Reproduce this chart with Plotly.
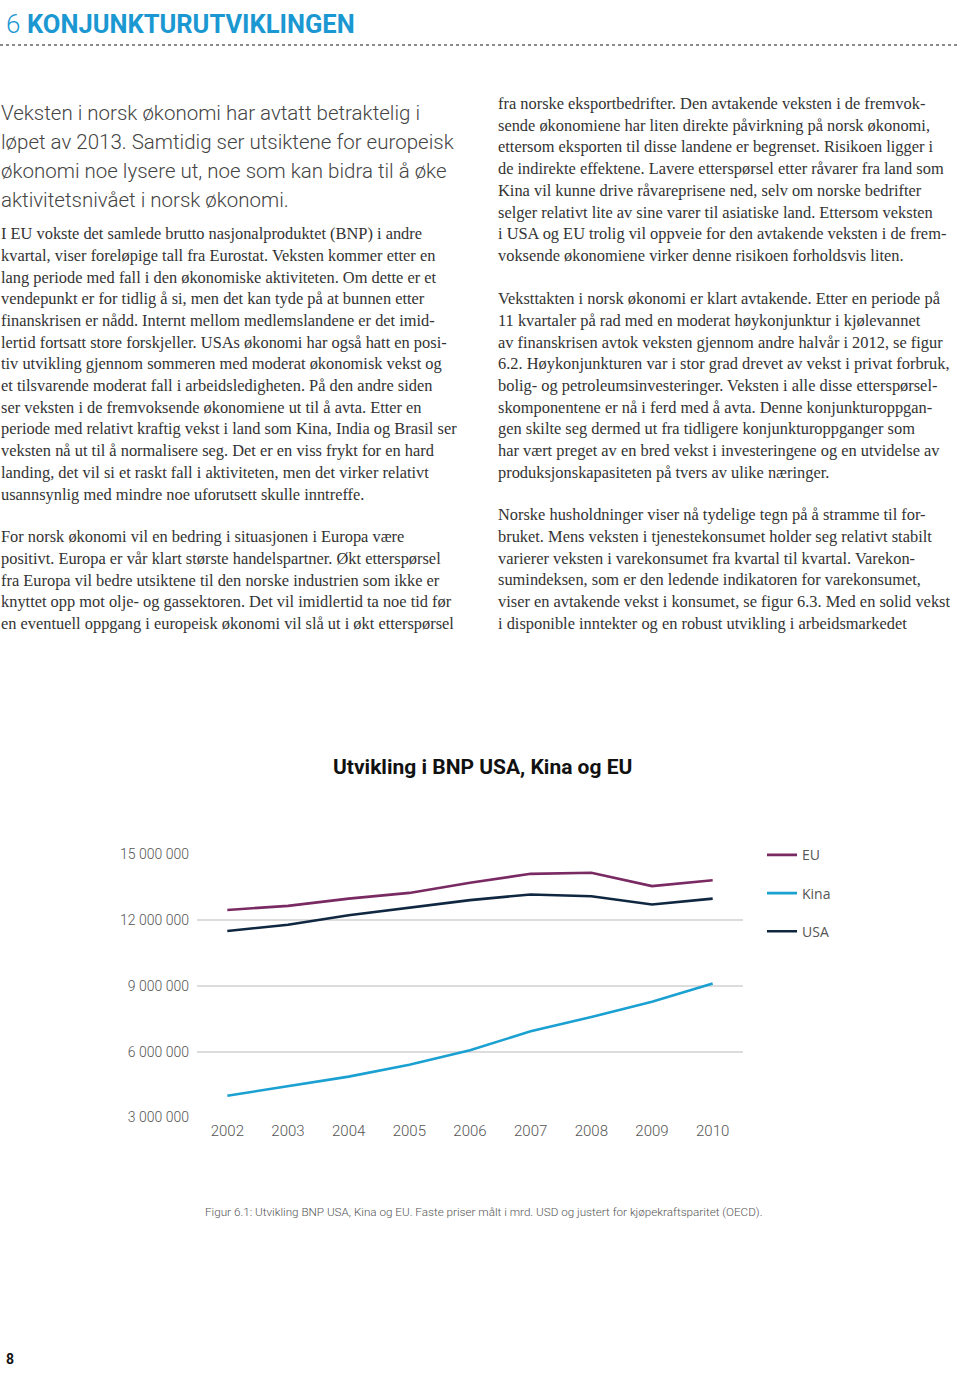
import plotly.graph_objects as go

W, H = 960, 1376

# ---- Chart data ----
years = [2002, 2003, 2004, 2005, 2006, 2007, 2008, 2009, 2010]
eu = [12460000, 12650000, 12980000, 13240000, 13700000, 14110000, 14160000, 13550000, 13820000]
kina = [3990000, 4420000, 4860000, 5400000, 6060000, 6930000, 7580000, 8270000, 9110000]
usa = [11500000, 11790000, 12220000, 12580000, 12910000, 13170000, 13090000, 12710000, 12980000]
series_names = ["EU", "Kina", "USA"]
series_colors = ["#7a2a63", "#1ba1d1", "#0f2740"]
y_tickvals = [3000000, 6000000, 9000000, 12000000, 15000000]
y_ticktext = ["3 000 000", "6 000 000", "9 000 000", "12 000 000", "15 000 000"]
x_ticktext = [str(y) for y in years]

chart_title = "Utvikling i BNP USA, Kina og EU"
caption = "Figur 6.1: Utvikling BNP USA, Kina og EU. Faste priser målt i mrd. USD og justert for kjøpekraftsparitet (OECD)."

# ---- Page text ----
intro_lines = [
    "Veksten i norsk økonomi har avtatt betraktelig i",
    "løpet av 2013. Samtidig ser utsiktene for europeisk",
    "økonomi noe lysere ut, noe som kan bidra til å øke",
    "aktivitetsnivået i norsk økonomi.",
]
left_p1 = [
    "I EU vokste det samlede brutto nasjonalproduktet (BNP) i andre",
    "kvartal, viser foreløpige tall fra Eurostat. Veksten kommer etter en",
    "lang periode med fall i den økonomiske aktiviteten. Om dette er et",
    "vendepunkt er for tidlig å si, men det kan tyde på at bunnen etter",
    "finanskrisen er nådd. Internt mellom medlemslandene er det imid-",
    "lertid fortsatt store forskjeller. USAs økonomi har også hatt en posi-",
    "tiv utvikling gjennom sommeren med moderat økonomisk vekst og",
    "et tilsvarende moderat fall i arbeidsledigheten. På den andre siden",
    "ser veksten i de fremvoksende økonomiene ut til å avta. Etter en",
    "periode med relativt kraftig vekst i land som Kina, India og Brasil ser",
    "veksten nå ut til å normalisere seg. Det er en viss frykt for en hard",
    "landing, det vil si et raskt fall i aktiviteten, men det virker relativt",
    "usannsynlig med mindre noe uforutsett skulle inntreffe.",
]
left_p2 = [
    "For norsk økonomi vil en bedring i situasjonen i Europa være",
    "positivt. Europa er vår klart største handelspartner. Økt etterspørsel",
    "fra Europa vil bedre utsiktene til den norske industrien som ikke er",
    "knyttet opp mot olje- og gassektoren. Det vil imidlertid ta noe tid før",
    "en eventuell oppgang i europeisk økonomi vil slå ut i økt etterspørsel",
]
right_p1 = [
    "fra norske eksportbedrifter. Den avtakende veksten i de fremvok-",
    "sende økonomiene har liten direkte påvirkning på norsk økonomi,",
    "ettersom eksporten til disse landene er begrenset. Risikoen ligger i",
    "de indirekte effektene. Lavere etterspørsel etter råvarer fra land som",
    "Kina vil kunne drive råvareprisene ned, selv om norske bedrifter",
    "selger relativt lite av sine varer til asiatiske land. Ettersom veksten",
    "i USA og EU trolig vil oppveie for den avtakende veksten i de frem-",
    "voksende økonomiene virker denne risikoen forholdsvis liten.",
]
right_p2 = [
    "Veksttakten i norsk økonomi er klart avtakende. Etter en periode på",
    "11 kvartaler på rad med en moderat høykonjunktur i kjølevannet",
    "av finanskrisen avtok veksten gjennom andre halvår i 2012, se figur",
    "6.2. Høykonjunkturen var i stor grad drevet av vekst i privat forbruk,",
    "bolig- og petroleumsinvesteringer. Veksten i alle disse etterspørsel-",
    "skomponentene er nå i ferd med å avta. Denne konjunkturoppgan-",
    "gen skilte seg dermed ut fra tidligere konjunkturoppganger som",
    "har vært preget av en bred vekst i investeringene og en utvidelse av",
    "produksjonskapasiteten på tvers av ulike næringer.",
]
right_p3 = [
    "Norske husholdninger viser nå tydelige tegn på å stramme til for-",
    "bruket. Mens veksten i tjenestekonsumet holder seg relativt stabilt",
    "varierer veksten i varekonsumet fra kvartal til kvartal. Varekon-",
    "sumindeksen, som er den ledende indikatoren for varekonsumet,",
    "viser en avtakende vekst i konsumet, se figur 6.3. Med en solid vekst",
    "i disponible inntekter og en robust utvikling i arbeidsmarkedet",
]

# empirical vertical calibration of the photographed page
VS, VO = 0.988, 7.0


def px(x):
    return x / W


def py(y):
    t = (y - VO) / VS
    return 1 - t / H


fig = go.Figure()
for name, vals, col in zip(series_names, [eu, kina, usa], series_colors):
    fig.add_trace(go.Scatter(
        x=years, y=vals, name=name, mode="lines", legendgroup=name,
        line=dict(color=col, width=2.6), hoverinfo="skip",
    ))

annotations = []
serif = dict(family="Liberation Serif", size=16.4, color="#333333")


def add_lines(lines, x0, y0, step, font):
    for i, t in enumerate(lines):
        annotations.append(dict(
            text=t, x=px(x0), y=py(y0 + i * step), xref="paper", yref="paper",
            xanchor="left", yanchor="middle", showarrow=False, font=font,
        ))


add_lines(intro_lines, -1, 112, 29, dict(family="Roboto", size=20.5, color="#444444", weight=300))
add_lines(left_p1, -1, 232.5, 21.7, serif)
add_lines(left_p2, -1, 535.5, 21.7, serif)
add_lines(right_p1, 496, 102.5, 21.7, serif)
add_lines(right_p2, 496, 297.5, 21.7, serif)
add_lines(right_p3, 496, 513.5, 21.7, serif)

# header (anchored to the top edge so it is not clipped)
annotations.append(dict(text="6", x=px(5), y=1, xref="paper", yref="paper",
                        xanchor="left", yanchor="top", showarrow=False, borderpad=0,
                        font=dict(family="Roboto", size=26, color="#1b98d2", weight=300)))
annotations.append(dict(text="<b>KONJUNKTURUTVIKLINGEN</b>", x=px(26), y=1,
                        xref="paper", yref="paper", xanchor="left", yanchor="top",
                        showarrow=False, borderpad=0,
                        font=dict(family="Roboto", size=25.5, color="#1b98d2")))
# chart title
annotations.append(dict(text="<b>" + chart_title + "</b>", x=px(482), y=py(766),
                        xref="paper", yref="paper", xanchor="center", yanchor="middle",
                        showarrow=False, font=dict(family="Roboto", size=21, color="#111111")))
# caption
annotations.append(dict(text=caption, x=px(203), y=py(1211), xref="paper", yref="paper",
                        xanchor="left", yanchor="middle", showarrow=False,
                        font=dict(family="Roboto", size=11.7, color="#555555", weight=300)))
# page number (anchored to the bottom edge)
annotations.append(dict(text="<b>8</b>", x=px(5), y=0, xref="paper", yref="paper",
                        xanchor="left", yanchor="bottom", showarrow=False, borderpad=0,
                        font=dict(family="Roboto", size=14, color="#111111")))

fig.update_layout(
    width=W, height=H,
    margin=dict(l=0, r=0, t=0, b=0),
    paper_bgcolor="white", plot_bgcolor="white",
    showlegend=True,
    legend=dict(x=px(762), y=py(838), xanchor="left", yanchor="top",
                font=dict(family="Open Sans", size=14, color="#555555"),
                tracegroupgap=17, bgcolor="rgba(0,0,0,0)"),
    xaxis=dict(domain=[px(197), px(743)], range=[2001.5, 2010.5],
               tickvals=years, ticktext=x_ticktext, showgrid=False, zeroline=False,
               showline=False, ticks="", ticklabelstandoff=3,
               tickfont=dict(family="Roboto", size=15, color="#555555", weight=300)),
    yaxis=dict(domain=[py(1116), py(853)], range=[3000000, 15000000],
               tickvals=y_tickvals, ticktext=y_ticktext, showgrid=True,
               gridcolor="#dcdcdc", gridwidth=1.5, zeroline=False, showline=False,
               ticks="", ticklabelstandoff=7,
               tickfont=dict(family="Roboto", size=14, color="#555555", weight=300)),
    annotations=annotations,
    shapes=[dict(type="line", xref="paper", yref="paper", x0=0, x1=1, y0=py(44), y1=py(44),
                 line=dict(color="#666666", width=1.5, dash="dot"))],
)

fig.write_html(
    "out.html",
    post_script="document.body.style.margin='0';document.body.style.padding='0';"
                "document.documentElement.style.overflow='hidden';",
    config={"displayModeBar": False},
)
